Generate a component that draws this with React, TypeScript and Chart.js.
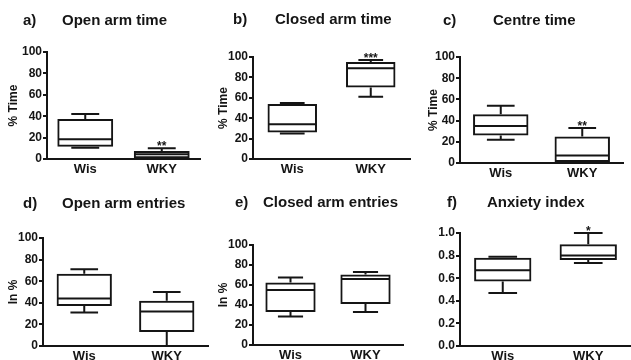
import React, { useEffect, useRef } from "react";
import { Chart, registerables } from "chart.js";

Chart.register(...registerables);

// ---------- data ----------
const groups = ["Wis", "WKY"];
// box summaries: [min, q1, median, q3, max]
const openArmTimeWis = [10.5, 11.5, 18.5, 37.5, 42];
const openArmTimeWky = [0, 0.7, 4.5, 7.5, 10];
const closedArmTimeWis = [25, 26, 34, 54, 55];
const closedArmTimeWky = [61, 70, 89, 95, 97];
const centreTimeWis = [22, 26, 35, 46, 54];
const centreTimeWky = [0, 1, 7, 25, 33];
const openArmEntriesWis = [31, 37, 44, 67, 71];
const openArmEntriesWky = [0, 13, 32, 42, 50];
const closedArmEntriesWis = [28.5, 33, 55, 62.5, 67.5];
const closedArmEntriesWky = [33, 41, 66, 70.5, 73];
const anxietyIndexWis = [0.47, 0.57, 0.67, 0.78, 0.79];
const anxietyIndexWky = [0.735, 0.76, 0.8, 0.9, 1.0];

const percentTicks = [0, 20, 40, 60, 80, 100];
const indexTicks = [0, 0.2, 0.4, 0.6, 0.8, 1.0];

const INK = "#151515";
const FONT = '"Liberation Sans", Arial, Helvetica, sans-serif';

type Plot = { left: number; top: number; bottom: number; right: number };
type PanelSpec = {
  left: number;
  top: number;
  width: number;
  height: number;
  letter: string;
  letterX: number;
  title: string;
  titleX: number;
  titleTop: number;
  yTitle: string | null;
  ticks: number[];
  decimals: number;
  wis: number[];
  wky: number[];
  star: string;
  plot: Plot;
  barPct: number;
};

const panels: PanelSpec[] = [
  {
    left: 0, top: 0, width: 210, height: 180,
    letter: "a)", letterX: 23, title: "Open arm time", titleX: 62, titleTop: 11,
    yTitle: "% Time", ticks: percentTicks, decimals: 0,
    wis: openArmTimeWis, wky: openArmTimeWky, star: "**",
    plot: { left: 47, top: 52, bottom: 159, right: 200 }, barPct: 0.73,
  },
  {
    left: 210, top: 0, width: 210, height: 180,
    letter: "b)", letterX: 233, title: "Closed arm time", titleX: 275, titleTop: 10,
    yTitle: "% Time", ticks: percentTicks, decimals: 0,
    wis: closedArmTimeWis, wky: closedArmTimeWky, star: "***",
    plot: { left: 43, top: 57, bottom: 159, right: 200 }, barPct: 0.63,
  },
  {
    left: 420, top: 0, width: 211, height: 180,
    letter: "c)", letterX: 443, title: "Centre time", titleX: 493, titleTop: 11,
    yTitle: "% Time", ticks: percentTicks, decimals: 0,
    wis: centreTimeWis, wky: centreTimeWky, star: "**",
    plot: { left: 40, top: 57, bottom: 163, right: 203 }, barPct: 0.68,
  },
  {
    left: 0, top: 180, width: 210, height: 180,
    letter: "d)", letterX: 23, title: "Open arm entries", titleX: 62, titleTop: 194,
    yTitle: "In %", ticks: percentTicks, decimals: 0,
    wis: openArmEntriesWis, wky: openArmEntriesWky, star: "",
    plot: { left: 43, top: 58, bottom: 166, right: 208 }, barPct: 0.67,
  },
  {
    left: 210, top: 180, width: 210, height: 180,
    letter: "e)", letterX: 235, title: "Closed arm entries", titleX: 263, titleTop: 193,
    yTitle: "In %", ticks: percentTicks, decimals: 0,
    wis: closedArmEntriesWis, wky: closedArmEntriesWky, star: "",
    plot: { left: 43, top: 65, bottom: 165, right: 193 }, barPct: 0.67,
  },
  {
    left: 420, top: 180, width: 211, height: 180,
    letter: "f)", letterX: 447, title: "Anxiety index", titleX: 487, titleTop: 193,
    yTitle: null, ticks: indexTicks, decimals: 1,
    wis: anxietyIndexWis, wky: anxietyIndexWky, star: "*",
    plot: { left: 40, top: 53, bottom: 166, right: 211 }, barPct: 0.67,
  },
];

function BoxPanel({ spec }: { spec: PanelSpec }) {
  const ref = useRef<HTMLCanvasElement | null>(null);

  useEffect(() => {
    const canvas = ref.current;
    if (!canvas) return;
    const stats = [spec.wis, spec.wky];

    const whiskerPlugin = {
      id: "boxWhiskers",
      afterDatasetsDraw(chart: any) {
        const { ctx } = chart;
        const y = chart.scales.y;
        const meta = chart.getDatasetMeta(0);
        ctx.save();
        ctx.strokeStyle = INK;
        ctx.lineWidth = 2;
        ctx.lineCap = "butt";
        stats.forEach((s, i) => {
          const bar = meta.data[i];
          const cx = bar.x;
          const half = bar.width / 2;
          const cap = bar.width / 4;
          const [mn, q1, md, q3, mx] = s.map((v) => y.getPixelForValue(v));
          ctx.beginPath();
          ctx.moveTo(cx - half + 1, md);
          ctx.lineTo(cx + half - 1, md);
          if (Math.abs(q3 - mx) > 0.5) {
            ctx.moveTo(cx, q3);
            ctx.lineTo(cx, mx);
          }
          ctx.moveTo(cx - cap, mx);
          ctx.lineTo(cx + cap, mx);
          if (Math.abs(q1 - mn) > 0.5) {
            ctx.moveTo(cx, q1);
            ctx.lineTo(cx, mn);
          }
          ctx.moveTo(cx - cap, mn);
          ctx.lineTo(cx + cap, mn);
          ctx.stroke();
        });
        if (spec.star) {
          const bar = meta.data[1];
          const top = y.getPixelForValue(spec.wky[4]);
          ctx.fillStyle = INK;
          ctx.font = `bold 12px ${FONT}`;
          ctx.textAlign = "center";
          ctx.textBaseline = "alphabetic";
          ctx.fillText(spec.star, bar.x, top + 2);
        }
        ctx.restore();
      },
    };

    const tickFont = { family: FONT, size: 12, weight: "bold" as const };
    const ticksArr = spec.ticks;

    const chart = new Chart(canvas, {
      type: "bar",
      data: {
        labels: groups,
        datasets: [
          {
            data: [
              [spec.wis[1], spec.wis[3]],
              [spec.wky[1], spec.wky[3]],
            ] as any,
            backgroundColor: "rgba(255,255,255,0)",
            borderColor: INK,
            borderWidth: 2,
            borderSkipped: false,
            categoryPercentage: 1,
            barPercentage: spec.barPct,
          },
        ],
      },
      options: {
        responsive: false,
        animation: false,
        events: [],
        layout: {
          padding: {
            left: 0,
            top: spec.plot.top,
            right: spec.width - spec.plot.right,
            bottom: 0,
          },
        },
        plugins: {
          legend: { display: false },
          tooltip: { enabled: false },
          title: { display: false },
        },
        scales: {
          x: {
            type: "category",
            offset: true,
            grid: { display: false, drawTicks: false },
            border: { display: true, color: INK, width: 2 },
            ticks: {
              color: INK,
              font: { family: FONT, size: 13, weight: "bold" },
              padding: 3,
              maxRotation: 0,
            },
            afterFit: (s: any) => {
              s.height = spec.height - spec.plot.bottom;
            },
          },
          y: {
            type: "linear",
            min: ticksArr[0],
            max: ticksArr[ticksArr.length - 1],
            afterBuildTicks: (s: any) => {
              s.ticks = ticksArr.map((v) => ({ value: v }));
            },
            grid: {
              drawOnChartArea: false,
              drawTicks: true,
              tickLength: 4,
              color: INK,
              lineWidth: 2,
            },
            border: { display: true, color: INK, width: 2 },
            ticks: {
              color: INK,
              font: tickFont,
              padding: 1,
              callback: (v: any) => Number(v).toFixed(spec.decimals),
            },
            title: spec.yTitle
              ? {
                  display: true,
                  text: spec.yTitle,
                  color: INK,
                  font: { family: FONT, size: 12, weight: "bold" },
                  padding: { top: 6, bottom: 0 },
                }
              : { display: false },
            afterFit: (s: any) => {
              s.width = spec.plot.left;
            },
          },
        },
      } as any,
      plugins: [whiskerPlugin],
    });

    return () => chart.destroy();
  }, [spec]);

  return (
    <div
      style={{
        position: "absolute",
        left: spec.left,
        top: spec.top,
        width: spec.width,
        height: spec.height,
      }}
    >
      <canvas
        ref={ref}
        width={spec.width}
        height={spec.height}
        style={{ display: "block", width: spec.width, height: spec.height }}
      />
    </div>
  );
}

const headStyle: React.CSSProperties = {
  position: "absolute",
  fontFamily: FONT,
  fontWeight: "bold",
  fontSize: 15,
  lineHeight: "18px",
  color: INK,
  whiteSpace: "nowrap",
};

export default function App() {
  return (
    <div
      style={{
        position: "absolute",
        left: 0,
        top: 0,
        width: 631,
        height: 360,
        background: "#ffffff",
        overflow: "hidden",
      }}
    >
      {panels.map((p) => (
        <BoxPanel key={p.letter} spec={p} />
      ))}
      {panels.map((p) => (
        <React.Fragment key={"t" + p.letter}>
          <div style={{ ...headStyle, left: p.letterX, top: p.titleTop }}>{p.letter}</div>
          <div style={{ ...headStyle, left: p.titleX, top: p.titleTop }}>{p.title}</div>
        </React.Fragment>
      ))}
    </div>
  );
}
